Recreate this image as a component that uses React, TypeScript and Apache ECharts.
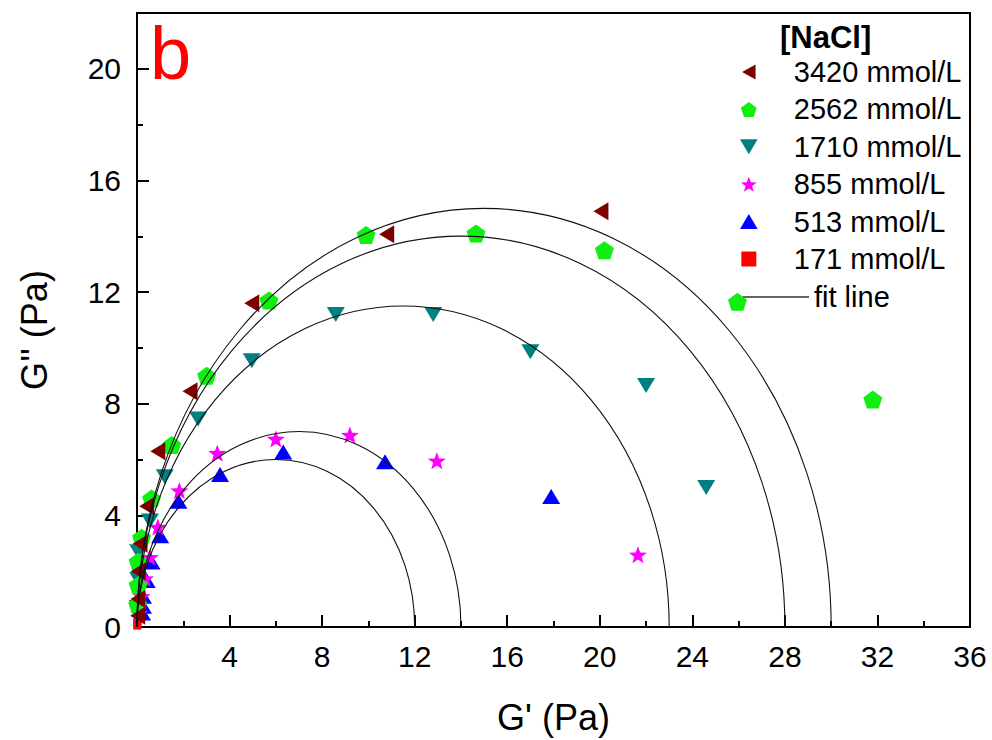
import React, { useEffect, useRef } from "react";
import * as echarts from "echarts";

// ---- data (G', G'') ----
const seriesNames = ["3420 mmol/L", "2562 mmol/L", "1710 mmol/L", "855 mmol/L", "513 mmol/L", "171 mmol/L"];
const seriesColors = ["#800000", "#11ee11", "#008080", "#ff00ff", "#0000ff", "#ff0000"];

const s3420 = [[0.03, 0.4], [0.04, 1.0], [0.05, 2.0], [0.13, 2.98], [0.42, 4.33], [0.9, 6.3], [2.29, 8.45], [4.96, 11.6], [10.79, 14.07], [20.05, 14.9]];
const s2562 = [[0.03, 0.8], [0.05, 1.5], [0.05, 2.34], [0.2, 3.2], [0.63, 4.6], [1.5, 6.52], [3.01, 9.0], [5.7, 11.7], [9.9, 14.05], [14.65, 14.1], [20.2, 13.5], [25.95, 11.65], [31.8, 8.15]];
const s1710 = [[0.03, 0.7], [0.05, 1.7], [0.05, 2.7], [0.56, 3.8], [1.2, 5.38], [2.64, 7.45], [4.96, 9.54], [8.59, 11.2], [12.8, 11.2], [17.0, 9.86], [22.0, 8.65], [24.6, 5.0]];
const s855 = [[0.1, 0.5], [0.2, 1.1], [0.35, 1.74], [0.56, 2.5], [0.9, 3.58], [1.83, 4.89], [3.47, 6.23], [6.0, 6.74], [9.2, 6.88], [12.96, 5.96], [21.65, 2.59]];
const s513 = [[0.22, 0.5], [0.26, 0.74], [0.26, 1.1], [0.42, 1.67], [0.63, 2.33], [1.0, 3.27], [1.79, 4.51], [3.59, 5.46], [6.32, 6.27], [10.72, 5.92], [17.9, 4.68]];
const s171 = [[0.01, 0.05], [0.02, 0.15], [0.03, 0.3]];

// plateau moduli G0 of the Maxwell fit semicircles (centre G0/2, radius G0/2)
const fitModulus = [30, 28, 23, 14, 12];

const xMin = 0, xMax = 36, xInterval = 4;
const yMin = 0, yMax = 22, yInterval = 4;

const LEFT_TRI = "path://M0,5 L9,0 L9,10 Z";
const DOWN_TRI = "path://M0,0 L10,0 L5,8.5 Z";
const UP_TRI = "path://M5,0 L10,8.5 L0,8.5 Z";
const PENTAGON = "path://M10,0 L19.51,6.91 L15.88,18.09 L4.12,18.09 L0.49,6.91 Z";
const STAR = "path://M10,0 L12.45,6.63 L19.51,6.91 L13.96,11.3 L15.88,18.09 L10,14.2 L4.12,18.09 L6.04,11.3 L0.49,6.91 L7.55,6.63 Z";
const SQUARE = "path://M0,0 L10,0 L10,10 L0,10 Z";

const symbols = [LEFT_TRI, PENTAGON, DOWN_TRI, STAR, UP_TRI, SQUARE];
const sizes: number[][] = [[15, 18], [19, 18], [18, 15], [18, 17], [18, 15], [8, 8]];
const allData = [s3420, s2562, s1710, s855, s513, s171];

const FONT = "'Liberation Sans', Arial, Helvetica, sans-serif";

export default function App() {
  const ref = useRef<HTMLDivElement>(null);
  useEffect(() => {
    if (!ref.current) return;
    const chart = echarts.init(ref.current, undefined, { renderer: "svg" });

    // drawn from the lowest concentration up so the 3420 markers lie on top
    const scatterSeries = allData
      .map((d, i) => ({
        name: seriesNames[i],
        type: "scatter",
        data: d,
        symbol: symbols[i],
        symbolSize: sizes[i],
        itemStyle: { color: seriesColors[i], opacity: 1 },
        z: 3,
        clip: false,
      }))
      .reverse();

    const option: any = {
      animation: false,
      backgroundColor: "#fff",
      textStyle: { fontFamily: FONT },
      grid: { left: 137, right: 22, top: 13, bottom: 106, show: true, borderColor: "#000", borderWidth: 2, containLabel: false },
      xAxis: {
        type: "value",
        min: xMin,
        max: xMax,
        interval: xInterval,
        name: "G' (Pa)",
        nameLocation: "middle",
        nameGap: 72,
        nameTextStyle: { fontSize: 36, color: "#000", fontFamily: FONT },
        axisLine: { show: true, lineStyle: { color: "#000", width: 2 } },
        axisTick: { show: true, inside: true, length: 12, lineStyle: { color: "#000", width: 2 } },
        minorTick: { show: true, splitNumber: 2, length: 6, lineStyle: { color: "#000", width: 2 } },
        splitLine: { show: false },
        axisLabel: { showMinLabel: false, fontSize: 30, color: "#000", margin: 14, fontFamily: FONT },
      },
      yAxis: {
        type: "value",
        min: yMin,
        max: yMax,
        interval: yInterval,
        name: "G'' (Pa)",
        nameLocation: "middle",
        nameGap: 85,
        nameRotate: 90,
        nameTextStyle: { fontSize: 36, color: "#000", fontFamily: FONT, padding: [0, 20, 0, 0] },
        axisLine: { show: true, lineStyle: { color: "#000", width: 2 } },
        axisTick: { show: true, inside: true, length: 12, lineStyle: { color: "#000", width: 2 } },
        minorTick: { show: true, splitNumber: 2, length: 6, lineStyle: { color: "#000", width: 2 } },
        splitLine: { show: false },
        axisLabel: { showMaxLabel: false, fontSize: 30, color: "#000", margin: 16, fontFamily: FONT },
      },
      legend: [
        {
          orient: "vertical",
          left: 740,
          top: 57.5,
          padding: 0,
          itemGap: 8.4,
          itemWidth: 80,
          itemHeight: 15,
          symbolKeepAspect: true,
          textStyle: { fontSize: 29, color: "#000", fontFamily: FONT },
          data: seriesNames.map((n, i) => ({ name: n, icon: symbols[i], itemStyle: { color: seriesColors[i] } })),
          selectedMode: false,
        },
        {
          orient: "vertical",
          left: 743,
          top: 282.5,
          padding: 0,
          itemWidth: 66,
          itemHeight: 1.5,
          textStyle: { fontSize: 29, color: "#000", fontFamily: FONT },
          data: [{ name: "fit line", icon: "rect", itemStyle: { color: "#333" } }],
          selectedMode: false,
        },
      ],
      graphic: [
        { type: "text", left: 150, top: 16, style: { text: "b", fontSize: 74, fill: "#ff0000", fontFamily: FONT } },
        { type: "text", left: 780, top: 22, style: { text: "[NaCl]", fontSize: 31, fontWeight: "bold", fill: "#000", fontFamily: FONT } },
      ],
      series: [
        {
          name: "fit line",
          type: "custom",
          data: fitModulus.map((g) => [g, 0]),
          encode: { x: 0, y: 1 },
          itemStyle: { color: "#333" },
          z: 4,
          clip: false,
          renderItem: (params: any, api: any) => {
            const g = api.value(0) as number;
            const r = g / 2;
            const c = api.coord([r, 0]);
            const s = api.size([r, r]) as number[];
            const rx = s[0];
            const ry = s[1];
            const x0 = c[0] - rx;
            const x1 = c[0] + rx;
            const y0 = c[1];
            return {
              type: "path",
              shape: { pathData: `M${x0} ${y0} A${rx} ${ry} 0 0 1 ${x1} ${y0}` },
              style: { fill: "none", stroke: "#111", lineWidth: 1.1 },
            };
          },
        },
        ...scatterSeries,
      ],
    };
    chart.setOption(option);
    return () => chart.dispose();
  }, []);
  return <div ref={ref} style={{ position: "absolute", left: 0, top: 0, width: 992, height: 740 }} />;
}
